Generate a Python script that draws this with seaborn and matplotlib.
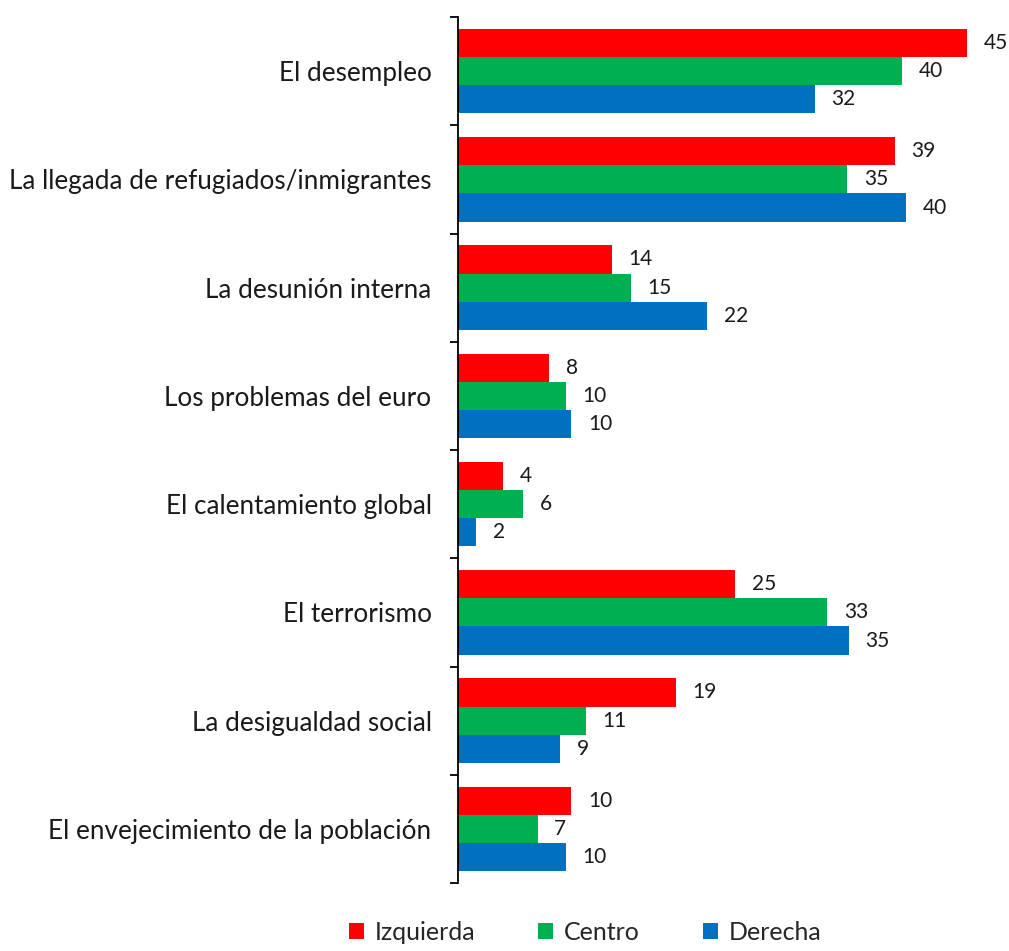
import pandas as pd
import numpy as np
import matplotlib.pyplot as plt
import seaborn as sns

categories = [
    'El desempleo',
    'La llegada de refugiados/inmigrantes',
    'La desunión interna',
    'Los problemas del euro',
    'El calentamiento global',
    'El terrorismo',
    'La desigualdad social',
    'El envejecimiento de la población',
]
# bar lengths, labels show them rounded
izquierda = [45.4, 38.9, 13.7, 8.1, 4.0, 24.7, 19.4, 10.1]
centro = [39.6, 34.7, 15.4, 9.6, 5.8, 32.9, 11.4, 7.1]
derecha = [31.8, 39.9, 22.2, 10.1, 1.6, 34.8, 9.1, 9.6]
series = ['Izquierda', 'Centro', 'Derecha']
colors = ['#FF0000', '#00B050', '#0070C0']

# long format for seaborn
df = pd.DataFrame({
    'tema': categories * 3,
    'grupo': np.repeat(series, len(categories)),
    'valor': izquierda + centro + derecha,
})

sns.set_theme(style='white')
plt.rcParams['font.family'] = ['Lato', 'DejaVu Sans']

fig = plt.figure(figsize=(10.09, 9.51), dpi=100)
ax = fig.add_axes([458 / 1009, 1 - 883 / 951, 542 / 1009, 866 / 951])

sns.barplot(data=df, y='tema', x='valor', hue='grupo', order=categories,
            hue_order=series, palette=colors, orient='h', width=0.78,
            saturation=1, linewidth=0, ax=ax, legend=True)

for cont in ax.containers:
    ax.bar_label(cont, fmt='{:.0f}', padding=12, fontsize=15, color='#1a1a1a')

ax.set_xlim(0, 48.3)
ax.set_ylim(len(categories) - 0.5, -0.5)
ax.set_xlabel('')
ax.set_ylabel('')
ax.set_xticks([])

# category boundary ticks on the left spine
ax.set_yticks(np.arange(len(categories)))
ax.set_yticklabels(categories, fontsize=18.8, color='#1a1a1a')
ax.tick_params(axis='y', which='major', length=0, pad=19)
ax.set_yticks(np.arange(-0.5, len(categories), 1), minor=True)
ax.tick_params(axis='y', which='minor', length=6, width=1.3, color='black',
               direction='out', left=True)

for s in ['top', 'right', 'bottom']:
    ax.spines[s].set_visible(False)
ax.spines['left'].set_color('black')
ax.spines['left'].set_linewidth(1.3)

handles, labels = ax.get_legend_handles_labels()
ax.get_legend().remove()
fig.legend(handles, labels, loc='lower center', bbox_to_anchor=(0.58, -0.016),
           ncol=3, frameon=False, fontsize=18, handlelength=0.6,
           handleheight=0.6, handletextpad=0.45, columnspacing=2.5)

fig.savefig('out.png', dpi=100)
